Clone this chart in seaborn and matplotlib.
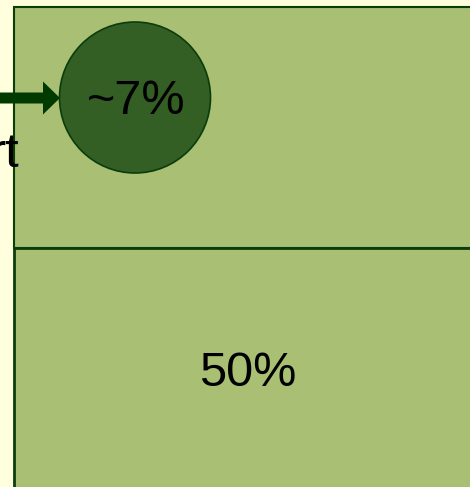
import matplotlib.pyplot as plt
import seaborn as sns
from matplotlib.patches import Rectangle, Circle, FancyArrow

sns.set_style("white")
plt.rcParams["font.family"] = ["Liberation Sans", "DejaVu Sans"]

# labels shown in the diagram
box_labels = ["~7%", "50%"]
side_label = "rt"

bg = "#ffffdd"
box_fill = "#a8bf74"
edge = "#0b3d0b"
circle_fill = "#335e24"
arrow_col = "#003a00"

fig = plt.figure(figsize=(4.7, 4.87), dpi=100, facecolor=bg)
ax = fig.add_axes([0, 0, 1, 1])
ax.set_facecolor(bg)
ax.set_xlim(0, 470)
ax.set_ylim(487, 0)
ax.axis("off")

# upper and lower boxes (running past the edge of the crop)
ax.add_patch(Rectangle((13.5, 7), 480, 241, facecolor=box_fill, edgecolor=edge, lw=1.5))
ax.add_patch(Rectangle((13.5, 248), 480, 260, facecolor=box_fill, edgecolor=edge, lw=2))

# circle with the small share
ax.add_patch(Circle((135, 97.5), 75.5, facecolor=circle_fill, edgecolor=edge, lw=1.2))
ax.text(136, 101, box_labels[0], ha="center", va="center", fontsize=35, color="black")

# arrow into the circle
ax.add_patch(FancyArrow(-5, 98, 65, 0, width=11, head_width=33, head_length=17,
                        length_includes_head=True, color=arrow_col, lw=0))

# lower box label
ax.text(248, 373, box_labels[1], ha="center", va="center", fontsize=35, color="black")

# clipped label on the left
ax.text(19, 167, side_label, ha="right", va="baseline", fontsize=35, color="black")

fig.savefig("out.png", dpi=100, facecolor=bg)
